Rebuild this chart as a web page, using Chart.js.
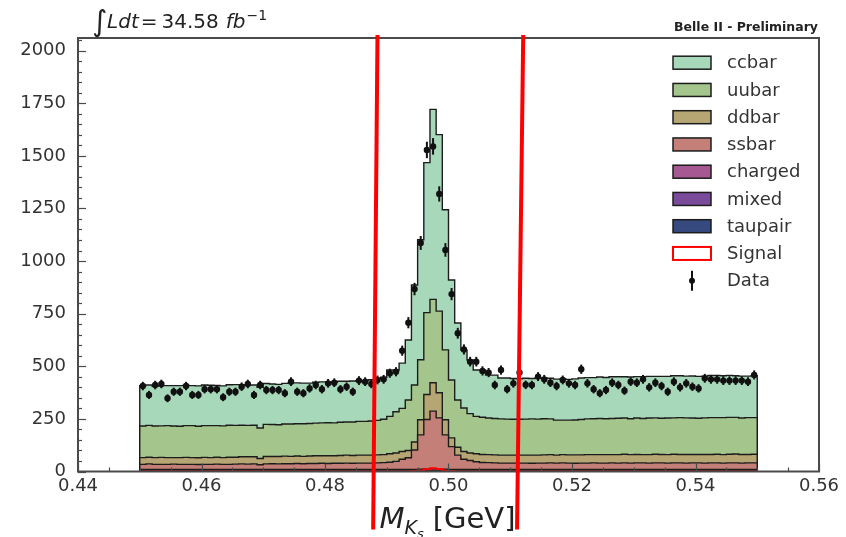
<!DOCTYPE html>
<html>
<head>
<meta charset="utf-8">
<script src="https://cdn.jsdelivr.net/npm/chart.js@4.4.1/dist/chart.umd.min.js"></script>
<style>
  html, body { margin: 0; padding: 0; background: #ffffff; }
  #box { width: 846px; height: 537px; }
</style>
</head>
<body>
<div id="box"><canvas id="chart" width="846" height="537"></canvas></div>
<script>
// K_S candidate mass histogram: 100 bins from 0.45 to 0.55 GeV
const binLow = 0.45;
const binWidth = 0.001;
const nBins = 100;

// Simulated components (events per bin)
const ccbar = [
  192,192,190,191,190,192,193,191,190,192,
  193,192,191,190,192,194,193,192,191,193,
  194,193,192,193,195,194,193,192,194,195,
  194,193,195,194,195,194,194,196,197,200,
  220,198,215,285,475,570,713,903,839,666,
  475,366,275,255,220,224,204,206,194,195,
  194,193,194,192,195,194,193,195,196,194,
  195,197,196,195,197,196,198,197,196,198,
  197,199,198,197,199,198,200,199,198,200,
  199,198,200,201,199,200,198,199,197,199
];
const uubar = [
  150,151,150,150,152,150,149,151,152,150,
  151,152,150,151,152,151,150,149,150,145,
  153,152,151,153,154,153,155,154,155,156,
  157,156,158,157,159,160,160,162,164,168,
  178,196,205,240,271,285,389,396,388,332,
  275,225,207,187,178,177,174,173,172,171,
  170,170,171,172,171,172,170,166,164,165,
  166,168,170,171,172,171,172,173,172,171,
  173,172,174,173,172,174,173,175,174,173,
  172,174,175,174,176,175,174,173,175,174
];
const ddbar = [
  32,32,32,33,32,31,32,33,32,32,
  33,32,33,32,34,33,34,35,34,30,
  35,34,35,36,35,36,35,36,37,36,
  37,36,37,38,37,38,38,38,38,38,
  40,40,37,35,38,72,119,135,119,72,
  42,37,37,36,38,38,38,38,38,38,
  38,38,38,39,38,39,39,38,39,39,
  40,39,40,39,40,40,39,40,41,40,
  40,39,40,41,40,40,41,40,41,40,
  40,41,40,41,40,41,42,41,40,41
];
const ssbar = [
  24,26,24,24,24,25,24,24,24,23,
  24,24,25,24,24,25,26,25,26,22,
  26,27,26,27,27,28,27,28,28,29,
  28,29,29,30,29,30,30,30,31,32,
  34,38,48,55,92,163,235,274,243,163,
  108,68,48,42,36,33,32,31,30,30,
  30,30,30,29,30,30,31,30,31,30,
  29,30,30,31,30,30,31,30,31,30,
  31,31,30,31,31,30,31,31,30,31,
  31,30,31,31,30,31,31,30,31,31
];
const charged = [
  6,6,6,6,6,6,6,6,6,6,
  6,6,6,6,6,6,6,6,6,6,
  6,6,6,6,6,6,6,6,6,6,
  6,6,6,6,6,6,6,6,6,6,
  6,6,6,6,6,7,8,9,8,7,
  6,6,6,6,6,6,6,6,6,6,
  6,6,6,6,6,6,6,6,6,6,
  6,6,6,6,6,6,6,6,6,6,
  6,6,6,6,6,6,6,6,6,6,
  6,6,6,6,6,6,6,6,6,6
];
const mixed = [
  3,3,3,3,3,3,3,3,3,3,
  3,3,3,3,3,3,3,3,3,3,
  3,3,3,3,3,3,3,3,3,3,
  3,3,3,3,3,3,3,3,3,3,
  3,3,3,3,3,3,3,3,3,3,
  3,3,3,3,3,3,3,3,3,3,
  3,3,3,3,3,3,3,3,3,3,
  3,3,3,3,3,3,3,3,3,3,
  3,3,3,3,3,3,3,3,3,3,
  3,3,3,3,3,3,3,3,3,3
];
const taupair = [
  1,1,1,1,1,1,1,1,1,1,
  1,1,1,1,1,1,1,1,1,1,
  1,1,1,1,1,1,1,1,1,1,
  1,1,1,1,1,1,1,1,1,1,
  1,1,1,1,1,1,1,1,1,1,
  1,1,1,1,1,1,1,1,1,1,
  1,1,1,1,1,1,1,1,1,1,
  1,1,1,1,1,1,1,1,1,1,
  1,1,1,1,1,1,1,1,1,1,
  1,1,1,1,1,1,1,1,1,1
];
const signal = [
  0,0,0,0,0,0,0,0,0,0,
  0,0,0,0,0,0,0,0,0,0,
  0,0,0,0,0,0,0,0,0,0,
  0,0,0,0,0,0,0,0,0,0,
  0,0,0,0,2,5,11,16,12,5,
  2,0,0,0,0,0,0,0,0,0,
  0,0,0,0,0,0,0,0,0,0,
  0,0,0,0,0,0,0,0,0,0,
  0,0,0,0,0,0,0,0,0,0,
  0,0,0,0,0,0,0,0,0,0
];
// Recorded data (events per bin)
const data = [
  406,364,411,416,348,379,379,406,364,364,
  391,391,391,353,379,379,403,416,364,411,
  387,387,387,372,427,379,372,395,411,391,
  419,422,391,403,379,432,427,416,435,438,
  467,474,574,707,867,1086,1528,1545,1319,1053,
  843,657,580,522,522,478,470,411,482,391,
  419,470,412,411,451,438,422,406,435,419,
  411,486,419,391,372,387,422,411,384,427,
  422,438,400,422,406,379,427,400,419,403,
  395,443,438,438,432,432,432,432,427,459
];

const xTicks = [0.44, 0.46, 0.48, 0.50, 0.52, 0.54, 0.56];
const yTicks = [0, 250, 500, 750, 1000, 1250, 1500, 1750, 2000];
const xMinorStep = 0.005;
const yMinorStep = 50;
const xMin = 0.44, xMax = 0.56, yMax = 2060;

// Mass window lines (GeV, events) from top end to bottom end
const windowLines = [
  { top: [0.4885, 2074], bottom: [0.4878, -276] },
  { top: [0.5121, 2074], bottom: [0.5111, -276] }
];

const colors = {
  ccbar: '#a8d8ba',
  uubar: '#a4c58b',
  ddbar: '#b6a673',
  ssbar: '#c47f78',
  charged: '#a65892',
  mixed: '#7b4b9b',
  taupair: '#364a80'
};
const legendNames = ['ccbar', 'uubar', 'ddbar', 'ssbar', 'charged', 'mixed', 'taupair', 'Signal', 'Data'];
const FONT = "'DejaVu Sans', 'Noto Sans', sans-serif";
const edgeColor = '#1c1c1c';
const axisColor = '#4a4a4a';
const textColor = '#333333';

const edges = [];
for (let i = 0; i <= nBins; i++) edges.push(+(binLow + i * binWidth).toFixed(4));
const centers = edges.slice(0, nBins).map(e => +(e + binWidth / 2).toFixed(5));

// Outline of a histogram as points for a 'before' stepped line
function stepPoints(vals) {
  const pts = [{ x: edges[0], y: 0 }];
  vals.forEach((v, i) => pts.push({ x: edges[i], y: v }));
  pts.push({ x: edges[nBins], y: vals[nBins - 1] });
  pts.push({ x: edges[nBins], y: 0 });
  return pts;
}

// Stack from the bottom layer upward; each layer fills down to zero,
// upper layers are drawn first so the lower ones sit on top of them.
const stackOrder = [
  ['taupair', taupair], ['mixed', mixed], ['charged', charged],
  ['ssbar', ssbar], ['ddbar', ddbar], ['uubar', uubar], ['ccbar', ccbar]
];
let running = new Array(nBins).fill(0);
const stackDatasets = stackOrder.map(([name, vals], j) => {
  running = running.map((r, i) => r + vals[i]);
  return {
    type: 'line',
    label: name,
    data: stepPoints(running.slice()),
    stepped: true,
    fill: 'origin',
    backgroundColor: colors[name],
    borderColor: edgeColor,
    borderWidth: 1.4,
    borderJoinStyle: 'miter',
    pointRadius: 0,
    order: 2 + j
  };
});

const datasets = [
  {
    type: 'scatter',
    label: 'Data',
    data: centers.map((c, i) => ({ x: c, y: data[i] })),
    pointRadius: 3.2,
    pointStyle: 'circle',
    backgroundColor: '#111111',
    borderWidth: 0,
    order: 0
  },
  {
    type: 'line',
    label: 'Signal',
    data: stepPoints(signal),
    stepped: true,
    fill: false,
    borderColor: '#ff0000',
    backgroundColor: '#ffffff',
    borderWidth: 2,
    pointRadius: 0,
    order: 1
  },
  ...stackDatasets
];

// Poisson error bars on the data points
const errorBars = {
  id: 'errorBars',
  afterDatasetsDraw(chart) {
    const { ctx, scales: { x, y } } = chart;
    ctx.save();
    ctx.strokeStyle = '#111111';
    ctx.lineWidth = 2;
    centers.forEach((c, i) => {
      const err = Math.sqrt(data[i]);
      const px = x.getPixelForValue(c);
      ctx.beginPath();
      ctx.moveTo(px, y.getPixelForValue(data[i] + err));
      ctx.lineTo(px, y.getPixelForValue(data[i] - err));
      ctx.stroke();
    });
    ctx.restore();
  }
};

function drawRuns(ctx, x, baseline, runs) {
  runs.forEach(r => {
    ctx.font = r.font;
    ctx.fillText(r.text, x, baseline + (r.dy || 0));
    x += ctx.measureText(r.text).width + (r.gap || 0);
  });
  return x;
}
function runsWidth(ctx, runs) {
  let w = 0;
  runs.forEach(r => { ctx.font = r.font; w += ctx.measureText(r.text).width + (r.gap || 0); });
  return w;
}

const decorations = {
  id: 'decorations',
  afterDraw(chart) {
    const { ctx, chartArea: a, scales: { x, y } } = chart;
    ctx.save();

    // inward tick marks on the left and bottom spines
    ctx.strokeStyle = axisColor;
    ctx.lineWidth = 1.2;
    for (let v = 0; v <= yMax + 1e-9; v += yMinorStep) {
      const major = yTicks.includes(v);
      const py = Math.round(y.getPixelForValue(v)) + 0.5;
      ctx.beginPath();
      ctx.moveTo(a.left, py);
      ctx.lineTo(a.left + (major ? 8 : 4), py);
      ctx.stroke();
    }
    const nMinor = Math.round((xMax - xMin) / xMinorStep);
    for (let k = 0; k <= nMinor; k++) {
      const v = +(xMin + k * xMinorStep).toFixed(4);
      const major = xTicks.some(t => Math.abs(t - v) < 1e-6);
      const px = Math.round(x.getPixelForValue(v)) + 0.5;
      ctx.beginPath();
      ctx.moveTo(px, a.bottom);
      ctx.lineTo(px, a.bottom - (major ? 8 : 4));
      ctx.stroke();
    }

    // frame
    ctx.lineWidth = 2;
    ctx.strokeRect(a.left, a.top, a.right - a.left, a.bottom - a.top);

    // legend
    const boxX = 673, boxW = 38, boxH = 13, rowY0 = 62.7, rowStep = 27.25, textX = 727;
    ctx.textBaseline = 'middle';
    ctx.textAlign = 'left';
    legendNames.forEach((name, i) => {
      const cy = rowY0 + i * rowStep;
      const ds = chart.data.datasets.find(d => d.label === name);
      if (name === 'Data') {
        const cx = boxX + boxW / 2;
        ctx.strokeStyle = '#111111';
        ctx.lineWidth = 2;
        ctx.beginPath();
        ctx.moveTo(cx, cy - 10);
        ctx.lineTo(cx, cy + 10);
        ctx.stroke();
        ctx.fillStyle = '#111111';
        ctx.beginPath();
        ctx.arc(cx, cy, 3, 0, Math.PI * 2);
        ctx.fill();
      } else if (name === 'Signal') {
        ctx.fillStyle = '#ffffff';
        ctx.fillRect(boxX, cy - boxH / 2, boxW, boxH);
        ctx.strokeStyle = ds.borderColor;
        ctx.lineWidth = 2;
        ctx.strokeRect(boxX, cy - boxH / 2, boxW, boxH);
      } else {
        ctx.fillStyle = ds.backgroundColor;
        ctx.fillRect(boxX, cy - boxH / 2, boxW, boxH);
        ctx.strokeStyle = edgeColor;
        ctx.lineWidth = 1.5;
        ctx.strokeRect(boxX, cy - boxH / 2, boxW, boxH);
      }
      ctx.fillStyle = textColor;
      ctx.font = '18px ' + FONT;
      ctx.fillText(name, textX, cy + 1);
    });

    // luminosity label
    ctx.textBaseline = 'alphabetic';
    ctx.fillStyle = '#222222';
    drawRuns(ctx, 92, 28, [
      { text: '\u222B', font: '29px ' + FONT, dy: 3, gap: 0 },
      { text: 'Ldt', font: 'italic 20px ' + FONT, gap: 2 },
      { text: '=', font: '20px ' + FONT, gap: 4 },
      { text: '34.58', font: '20px ' + FONT, gap: 7 },
      { text: 'fb', font: 'italic 20px ' + FONT, gap: 1 },
      { text: '\u22121', font: '14px ' + FONT, dy: -8 }
    ]);

    // experiment tag
    ctx.textAlign = 'right';
    ctx.font = 'bold 12.5px ' + FONT;
    ctx.fillText('Belle II - Preliminary', a.right - 1, 31);

    // x axis title
    ctx.textAlign = 'left';
    const titleRuns = [
      { text: 'M', font: 'italic 29px ' + FONT, gap: 0 },
      { text: 'K', font: 'italic 19px ' + FONT, dy: 6, gap: 0 },
      { text: 's', font: 'italic 13px ' + FONT, dy: 10, gap: 9 },
      { text: '[GeV]', font: '29px ' + FONT }
    ];
    const tw = runsWidth(ctx, titleRuns);
    drawRuns(ctx, (a.left + a.right) / 2 - tw / 2 - 1, 528, titleRuns);

    // mass window
    ctx.strokeStyle = '#ff0000';
    ctx.lineWidth = 4;
    ctx.lineCap = 'butt';
    windowLines.forEach(l => {
      ctx.beginPath();
      ctx.moveTo(x.getPixelForValue(l.top[0]), y.getPixelForValue(l.top[1]));
      ctx.lineTo(x.getPixelForValue(l.bottom[0]), y.getPixelForValue(l.bottom[1]));
      ctx.stroke();
    });
    ctx.restore();
  }
};

new Chart(document.getElementById('chart'), {
  type: 'line',
  data: { datasets },
  options: {
    responsive: false,
    animation: false,
    devicePixelRatio: 1,
    layout: { padding: { top: 38, right: 27, left: 0, bottom: 0 } },
    plugins: { legend: { display: false }, tooltip: { enabled: false } },
    scales: {
      x: {
        type: 'linear',
        min: xMin,
        max: xMax,
        grid: { display: false, drawTicks: false },
        border: { display: false },
        ticks: {
          autoSkip: false, maxRotation: 0, padding: 4,
          color: textColor, font: { family: FONT, size: 18 },
          callback: v => v.toFixed(2)
        },
        afterBuildTicks: s => { s.ticks = xTicks.map(v => ({ value: v })); },
        afterFit: s => { s.height = 65.5; }
      },
      y: {
        type: 'linear',
        min: 0,
        max: yMax,
        grid: { display: false, drawTicks: false },
        border: { display: false },
        ticks: {
          autoSkip: false, padding: 12,
          color: textColor, font: { family: FONT, size: 18 },
          callback: v => String(v)
        },
        afterBuildTicks: s => { s.ticks = yTicks.map(v => ({ value: v })); },
        afterFit: s => { s.width = 78; }
      }
    }
  },
  plugins: [errorBars, decorations]
});
</script>
</body>
</html>
